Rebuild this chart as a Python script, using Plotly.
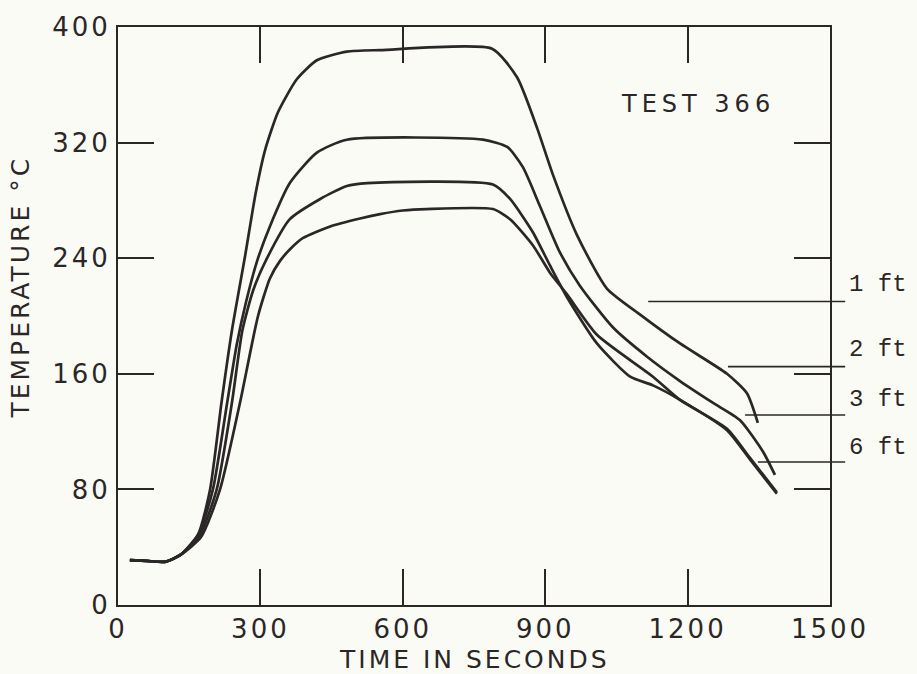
import plotly.graph_objects as go

# ---------------- data ----------------
ft1_t = [25, 60, 101, 133, 169, 194, 218, 240, 268, 290, 310, 337, 377, 419, 482, 552, 788, 841, 883, 916, 967, 1030, 1100, 1184, 1283, 1325, 1348]
ft1_T = [31, 30.5, 30, 35, 49, 80, 140, 190, 242, 285, 315, 341, 364, 377, 383, 384, 385, 365, 330, 298, 256, 219, 201, 181, 160, 146.5, 126]

ft2_t = [25, 60, 101, 133, 170, 200, 230, 250, 270, 293, 320, 362, 419, 482, 769, 820, 853, 889, 931, 973, 1043, 1114, 1184, 1253, 1310, 1359, 1384]
ft2_T = [31, 30.5, 30, 35, 49, 80, 140, 180, 210, 238, 262, 292, 313, 322, 322, 317, 303, 276, 244, 221, 192, 172, 155, 140, 128, 106, 90]

ft3_t = [25, 60, 101, 133, 172, 208, 240, 262, 285, 314, 362, 426, 482, 525, 790, 826, 874, 910, 946, 1009, 1079, 1127, 1184, 1283, 1331, 1388]
ft3_T = [31, 30.5, 30, 35, 48, 80, 140, 190, 218, 240, 267, 281, 290, 292, 291, 281, 258, 235, 213, 181, 158, 152, 142, 121, 101, 77]

ft6_t = [25, 60, 101, 133, 175, 215, 257, 295, 320, 341, 365, 390, 447, 510, 552, 600, 650, 790, 826, 874, 910, 946, 1009, 1127, 1184, 1283, 1331, 1388]
ft6_T = [31, 30.5, 30, 35, 47, 80, 140, 200, 226, 238, 247, 254, 262, 267.5, 270.5, 273, 274, 274, 267, 249, 230, 215, 187, 158, 142, 122, 102, 78]

series_names = ["1 ft", "2 ft", "3 ft", "6 ft"]

# leader lines for the right-hand labels
leader_T = [210, 165, 131.5, 99]
leader_t_start = [1117, 1285, 1321, 1348]
leader_t_end = 1532
label_T = [222, 177, 142, 109]
label_t = 1536

x_ticks = [0, 300, 600, 900, 1200, 1500]
y_ticks = [0, 80, 160, 240, 320, 400]
x_range = [0, 1500]
y_range = [0, 400]

title_text = "TEST 366"
title_t, title_T = 1222, 347
x_title = "TIME IN SECONDS"
y_title = "TEMPERATURE °C"

# ---------------- style ----------------
INK = "#2b2727"
BG = "#fbfbf6"
FONT = "DejaVu Sans"
MONO = "Liberation Mono"


def spaced(s, px=3):
    return f'<span style="letter-spacing:{px}px">{s}</span>'


fig = go.Figure()
for t, T, name in zip([ft1_t, ft2_t, ft3_t, ft6_t], [ft1_T, ft2_T, ft3_T, ft6_T], series_names):
    fig.add_trace(go.Scatter(
        x=t, y=T, mode="lines", name=name,
        line=dict(color=INK, width=2.7, shape="spline", smoothing=0.6),
        showlegend=False, hoverinfo="skip",
    ))

shapes = []
annotations = []
for lt0, lT, labT, name in zip(leader_t_start, leader_T, label_T, series_names):
    shapes.append(dict(
        type="line", xref="paper", yref="paper",
        x0=lt0 / x_range[1], x1=leader_t_end / x_range[1],
        y0=lT / y_range[1], y1=lT / y_range[1],
        line=dict(color=INK, width=1.6),
    ))
    annotations.append(dict(
        x=label_t / x_range[1], y=labT, xref="paper", yref="y",
        text=name, showarrow=False, xanchor="left", yanchor="middle",
        font=dict(family=MONO, size=24, color=INK),
    ))

annotations.append(dict(
    x=title_t, y=title_T, xref="x", yref="y", text=spaced(title_text, 5), showarrow=False,
    xanchor="center", yanchor="middle", font=dict(family=FONT, size=24, color=INK),
))
annotations.append(dict(
    x=0.5, y=-0.094, xref="paper", yref="paper", text=spaced(x_title), showarrow=False,
    xanchor="center", yanchor="middle", font=dict(family=FONT, size=25, color=INK),
))
annotations.append(dict(
    x=-0.137, y=0.55, xref="paper", yref="paper", text=spaced(y_title), showarrow=False,
    textangle=-90, xanchor="center", yanchor="middle", font=dict(family=FONT, size=25, color=INK),
))

axis_common = dict(
    showgrid=False, zeroline=False, showline=True, linecolor=INK, linewidth=2,
    mirror="ticks", ticks="inside", ticklen=36, tickwidth=1.6, tickcolor=INK,
    tickfont=dict(family=FONT, size=26, color=INK),
)

fig.update_xaxes(range=x_range, tickmode="array", tickvals=x_ticks,
                 ticktext=[spaced(str(v)) for v in x_ticks], **axis_common)
fig.update_yaxes(range=y_range, tickmode="array", tickvals=y_ticks,
                 ticktext=[spaced(str(v)) for v in y_ticks], **axis_common)

fig.update_layout(
    width=917, height=674,
    margin=dict(l=118, r=87, t=18, b=69),
    paper_bgcolor=BG, plot_bgcolor=BG,
    shapes=shapes, annotations=annotations,
    showlegend=False,
)

fig.write_html("out.html")
